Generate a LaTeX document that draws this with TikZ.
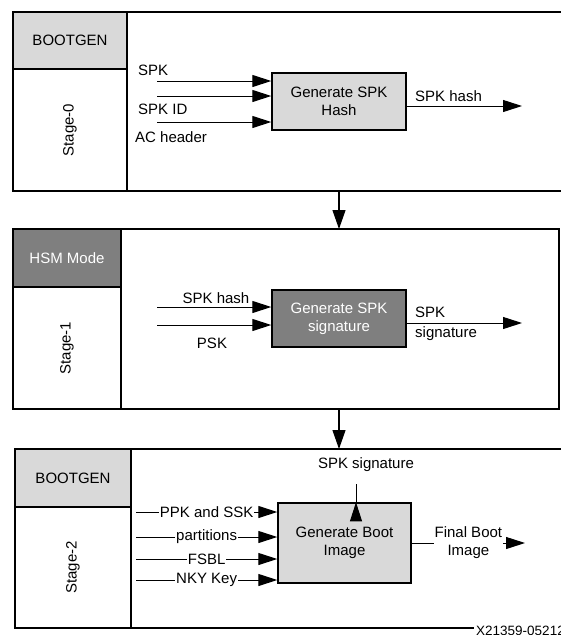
\documentclass[tikz,border=0pt]{standalone}
\usepackage{fontspec}
\setmainfont{Liberation Sans}
\usetikzlibrary{arrows.meta,calc}
\definecolor{lightbox}{HTML}{D9D9D9}
\definecolor{darkbox}{HTML}{7F7F7F}
\tikzset{
  frame/.style={draw, line width=1.4pt, anchor=north west, inner sep=0pt, outer sep=0pt},
  hdr/.style={frame, fill=lightbox},
  proc/.style={draw, line width=1.4pt, fill=lightbox, align=center, inner sep=0pt},
  arr/.style={-{Triangle[length=19pt,width=12pt]}, line width=1pt},
  bigarr/.style={-{Triangle[length=19pt,width=13pt]}, line width=1.2pt},
  tag/.style={inner sep=1pt, fill=white},
}
\begin{document}
\begin{tikzpicture}[x=1pt, y=-1pt, font=\fontsize{15}{18}\selectfont, every node/.append style={inner sep=1pt}]
\useasboundingbox (0,0) rectangle (560,635);

% stage 0
\node[frame, minimum width=551pt, minimum height=179pt] (stage0) at (13,12) {};
\node[hdr, minimum width=114pt, minimum height=57pt] (hdr0) at (13,12) {BOOTGEN};
\node[frame, minimum width=114pt, minimum height=122pt] (st0) at (hdr0.south west) {\rotatebox{90}{Stage-0}};
\node[proc, minimum width=134pt, minimum height=57pt] (gen0) at (339,101.5) {Generate SPK\\Hash};
\coordinate (i01) at (157,81);
\coordinate (i02) at (157,96);
\coordinate (i03) at (157,122);
\draw[arr] (i01) -- (i01 -| gen0.west);
\draw[arr] (i02) -- (i02 -| gen0.west);
\draw[arr] (i03) -- (i03 -| gen0.west);
\node[anchor=west] (spk) at (137,70) {SPK};
\node[anchor=west] (spkid) at (137,109) {SPK ID};
\node[anchor=west] (ach) at (134,137) {AC header};
\coordinate (o0) at (522,106);
\draw[arr] (gen0.east |- o0) -- (o0);
\node[anchor=west] (hash0) at (414,96) {SPK hash};

\draw[bigarr] (gen0.center |- stage0.south) -- (gen0.center |- 0,229);

% stage 1
\node[frame, minimum width=546pt, minimum height=180pt] (stage1) at (13,229) {};
\node[frame, fill=darkbox, text=white, minimum width=108pt, minimum height=58pt] (hdr1) at (13,229) {HSM Mode};
\node[frame, minimum width=108pt, minimum height=122pt] (st1) at (hdr1.south west) {\rotatebox{90}{Stage-1}};
\node[proc, fill=darkbox, text=white, minimum width=134pt, minimum height=57pt] (gen1) at (339,318.5) {Generate SPK\\signature};
\coordinate (i11) at (157,307);
\coordinate (i12) at (157,325);
\draw[arr] (i11) -- (i11 -| gen1.west);
\draw[arr] (i12) -- (i12 -| gen1.west);
\node (hash1) at (216,298) {SPK hash};
\node (psk) at (212,343) {PSK};
\coordinate (o1) at (522,323);
\draw[arr] (gen1.east |- o1) -- (o1);
\node[anchor=west, align=left, font=\fontsize{15}{20}\selectfont] (sig1) at (414,324) {SPK\\signature};

\draw[bigarr] (gen1.center |- stage1.south) -- (gen1.center |- 0,449);

% stage 2
\node[frame, minimum width=549pt, minimum height=179pt] (stage2) at (15,449) {};
\node[hdr, minimum width=116pt, minimum height=58pt] (hdr2) at (15,449) {BOOTGEN};
\node[frame, minimum width=116pt, minimum height=121pt] (st2) at (hdr2.south west) {\rotatebox{90}{Stage-2}};
\node[proc, minimum width=133pt, minimum height=80pt] (gen2) at (344.5,543) {Generate Boot\\Image};
\coordinate (i21) at (136,512);
\coordinate (i22) at (136,537);
\coordinate (i23) at (136,559);
\coordinate (i24) at (136,580);
\draw[arr] (i21) -- node[tag] (ppk) {PPK and SSK} (i21 -| gen2.west);
\draw[arr] (i22) -- node[tag] (parts) {partitions} (i22 -| gen2.west);
\draw[arr] (i23) -- node[tag] (fsbl) {FSBL} (i23 -| gen2.west);
\draw[arr] (i24) -- node[tag] (nky) {NKY Key} (i24 -| gen2.west);
\node (sig2) at (366,465) {SPK signature};
\draw[arr] ($(gen2.north)+(11.5,0)$ |- sig2.south) -- ($(gen2.north)+(11.5,0)$);
\coordinate (o2) at (525,543);
\draw[arr] (gen2.east) -- node[tag, align=center] (final) {Final Boot\\Image} (o2);

\node[anchor=north west, fill=white, inner sep=2pt, font=\fontsize{13.5}{15}\selectfont] (figid) at (474,624) {X21359-05212};
\end{tikzpicture}
\end{document}
